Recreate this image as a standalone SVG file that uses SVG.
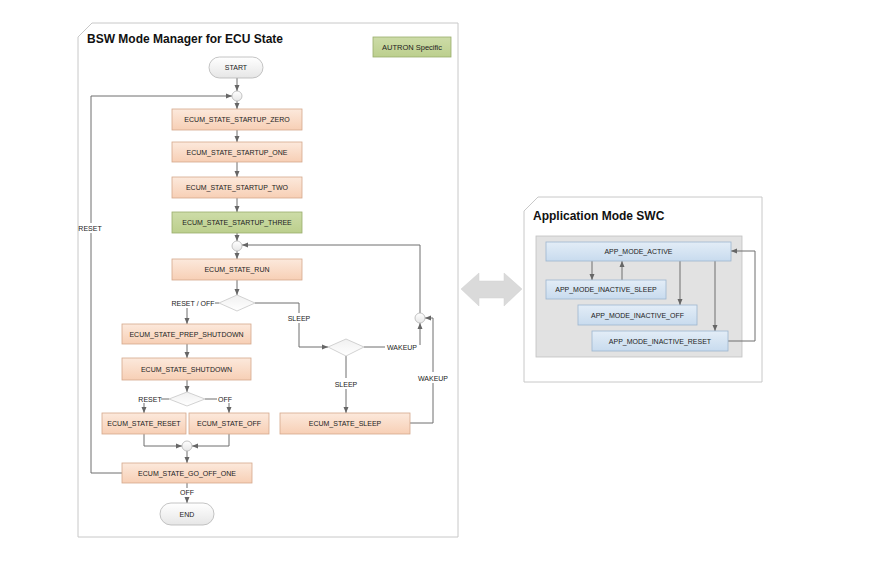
<svg xmlns="http://www.w3.org/2000/svg" width="883" height="574" viewBox="0 0 883 574">
<style>
text{font-family:"Liberation Sans",Arial,sans-serif;font-size:7px;fill:#222;text-anchor:middle}
.title{font-size:12px;font-weight:bold;text-anchor:start;fill:#111}
.panel{fill:#fff;stroke:#c8c8c8;stroke-width:1}
.st{fill:url(#gOr);stroke:#d4a88c;stroke-width:0.8}
.gr{fill:url(#gGr);stroke:#9aad6c;stroke-width:0.8}
.bl{fill:url(#gBl);stroke:#9db6cf;stroke-width:0.8}
.pill{fill:url(#gPill);stroke:#b5b5b5;stroke-width:0.8}
.jn{fill:url(#gPill);stroke:#b5b5b5;stroke-width:0.8}
.dm{fill:url(#gDm);stroke:#c6c6c6;stroke-width:0.8}
.c{fill:none;stroke:#6e6e6e;stroke-width:1}
.a{marker-end:url(#ah)}
</style>
<defs>
<linearGradient id="gOr" x1="0" y1="0" x2="0" y2="1"><stop offset="0" stop-color="#fce9dc"/><stop offset="1" stop-color="#f7cfb5"/></linearGradient>
<linearGradient id="gGr" x1="0" y1="0" x2="0" y2="1"><stop offset="0" stop-color="#cddca8"/><stop offset="1" stop-color="#bccf8d"/></linearGradient>
<linearGradient id="gBl" x1="0" y1="0" x2="0" y2="1"><stop offset="0" stop-color="#e3edf7"/><stop offset="1" stop-color="#c8dbee"/></linearGradient>
<linearGradient id="gPill" x1="0" y1="0" x2="0" y2="1"><stop offset="0" stop-color="#ffffff"/><stop offset="1" stop-color="#e6e6e6"/></linearGradient>
<linearGradient id="gDm" x1="0" y1="0" x2="0" y2="1"><stop offset="0" stop-color="#f0f0f0"/><stop offset="1" stop-color="#ffffff"/></linearGradient>
<marker id="ah" viewBox="0 0 6 6" refX="6" refY="3" markerWidth="6" markerHeight="6" orient="auto" markerUnits="userSpaceOnUse"><path d="M0,0.5 L6,3 L0,5.5 z" fill="#666"/></marker>
</defs>

<g id="panel-bsw">
<path class="panel" d="M78,37 L92,23 H458 V537 H78 Z"/>
<text class="title" x="87" y="43">BSW Mode Manager for ECU State</text>
</g>
<g id="autron"><rect x="373" y="37" width="78" height="20" class="gr"/><text x="412" y="49.5" style="font-size:7.5px">AUTRON Specific</text></g>

<g id="panel-app">
<path class="panel" d="M524,211 L538,197 H762 V382 H524 Z"/>
<text class="title" x="533" y="220">Application Mode SWC</text>
<rect x="536" y="236" width="206" height="121" fill="#e2e2e2" stroke="#c0c0c0" stroke-width="0.8"/>
</g>

<g id="double-arrow"><polygon points="461,289 479,273 479,281 504,281 504,273 522,289 504,306 504,298 479,298 479,306" fill="#dadada" stroke="#d0d0d0" stroke-width="0.5"/></g>

<g id="connectors">
<path class="c a" d="M237,78 V91"/>
<path class="c a" d="M237,101 V109"/>
<path class="c a" d="M237,130 V142"/>
<path class="c a" d="M237,162 V177"/>
<path class="c a" d="M237,198 V212"/>
<path class="c a" d="M237,233 V241"/>
<path class="c a" d="M237,251 V259"/>
<path class="c a" d="M237,280 V295"/>
<path class="c" d="M219,303 H215"/>
<path class="c a" d="M187,308 V324"/>
<path class="c" d="M255,303 H299 V313"/>
<path class="c a" d="M299,323 V347 H328"/>
<path class="c" d="M364,347 H385"/>
<path class="c a" d="M420,345 V323"/>
<path class="c a" d="M420,313 V245 H242"/>
<path class="c" d="M346,356 V378"/>
<path class="c a" d="M346,389 V413"/>
<path class="c" d="M410,423 H433 V383"/>
<path class="c a" d="M433,372 V318 H425"/>
<path class="c a" d="M187,344 V358"/>
<path class="c a" d="M187,380 V392"/>
<path class="c" d="M169,399 H161"/>
<path class="c a" d="M144,403 V413"/>
<path class="c" d="M205,399 H217"/>
<path class="c a" d="M229,403 V413"/>
<path class="c a" d="M144,434 V446 H182"/>
<path class="c a" d="M229,434 V446 H192"/>
<path class="c a" d="M187,451 V463"/>
<path class="c" d="M122,473 H91 V233"/>
<path class="c a" d="M91,223 V96 H232"/>
<path class="c" d="M187,483 V488"/>
<path class="c a" d="M187,497 V503"/>
<path class="c a" d="M592,261 V280"/>
<path class="c a" d="M622,280 V261"/>
<path class="c a" d="M680,261 V305"/>
<path class="c a" d="M715,261 V331"/>
<path class="c a" d="M728,341 H755 V251 H731"/>
<text x="193" y="305.5">RESET / OFF</text>
<text x="299" y="320.5">SLEEP</text>
<text x="402" y="349.5">WAKEUP</text>
<text x="346" y="386.5">SLEEP</text>
<text x="433" y="380.5">WAKEUP</text>
<text x="150" y="401.5">RESET</text>
<text x="225" y="401.5">OFF</text>
<text x="90" y="230.5">RESET</text>
<text x="187" y="495">OFF</text>
</g>

<g id="start"><rect x="209" y="57" width="54" height="21" rx="10.5" class="pill"/><text x="236" y="70">START</text></g>
<g id="j1"><circle cx="237" cy="96" r="5" class="jn"/></g>
<g id="startup-zero"><rect x="172" y="109" width="130" height="21" class="st"/><text x="237" y="122">ECUM_STATE_STARTUP_ZERO</text></g>
<g id="startup-one"><rect x="172" y="142" width="130" height="20" class="st"/><text x="237" y="154.5">ECUM_STATE_STARTUP_ONE</text></g>
<g id="startup-two"><rect x="172" y="177" width="130" height="21" class="st"/><text x="237" y="190">ECUM_STATE_STARTUP_TWO</text></g>
<g id="startup-three"><rect x="172" y="212" width="130" height="21" class="gr"/><text x="237" y="225">ECUM_STATE_STARTUP_THREE</text></g>
<g id="j2"><circle cx="237" cy="246" r="5" class="jn"/></g>
<g id="run"><rect x="172" y="259" width="130" height="21" class="st"/><text x="237" y="272">ECUM_STATE_RUN</text></g>
<g id="d1"><polygon points="219,303 237,295 255,303 237,311" class="dm"/></g>
<g id="prep"><rect x="122" y="324" width="129" height="20" class="st"/><text x="186.5" y="336.5">ECUM_STATE_PREP_SHUTDOWN</text></g>
<g id="shutdown"><rect x="122" y="358" width="129" height="22" class="st"/><text x="186.5" y="371.5">ECUM_STATE_SHUTDOWN</text></g>
<g id="d3"><polygon points="169,399 187,392 205,399 187,406" class="dm"/></g>
<g id="reset"><rect x="102" y="413" width="84" height="21" class="st"/><text x="144" y="426">ECUM_STATE_RESET</text></g>
<g id="off"><rect x="189" y="413" width="80" height="21" class="st"/><text x="229" y="426">ECUM_STATE_OFF</text></g>
<g id="j4"><circle cx="187" cy="446" r="5" class="jn"/></g>
<g id="go-off-one"><rect x="122" y="463" width="130" height="20" class="st"/><text x="187" y="475.5">ECUM_STATE_GO_OFF_ONE</text></g>
<g id="end"><rect x="160" y="503" width="54" height="22" rx="11" class="pill"/><text x="187" y="516.5">END</text></g>
<g id="d2"><polygon points="328,347 346,339 364,347 346,356" class="dm"/></g>
<g id="j3"><circle cx="420" cy="318" r="5" class="jn"/></g>
<g id="sleep"><rect x="280" y="413" width="130" height="21" class="st"/><text x="345" y="426">ECUM_STATE_SLEEP</text></g>

<g id="app-active"><rect x="546" y="242" width="185" height="19" class="bl"/><text x="638.5" y="254">APP_MODE_ACTIVE</text></g>
<g id="app-sleep"><rect x="546" y="280" width="120" height="19" class="bl"/><text x="606" y="292">APP_MODE_INACTIVE_SLEEP</text></g>
<g id="app-off"><rect x="578" y="305" width="119" height="20" class="bl"/><text x="637.5" y="317.5">APP_MODE_INACTIVE_OFF</text></g>
<g id="app-reset"><rect x="592" y="331" width="136" height="20" class="bl"/><text x="660" y="343.5">APP_MODE_INACTIVE_RESET</text></g>
</svg>
